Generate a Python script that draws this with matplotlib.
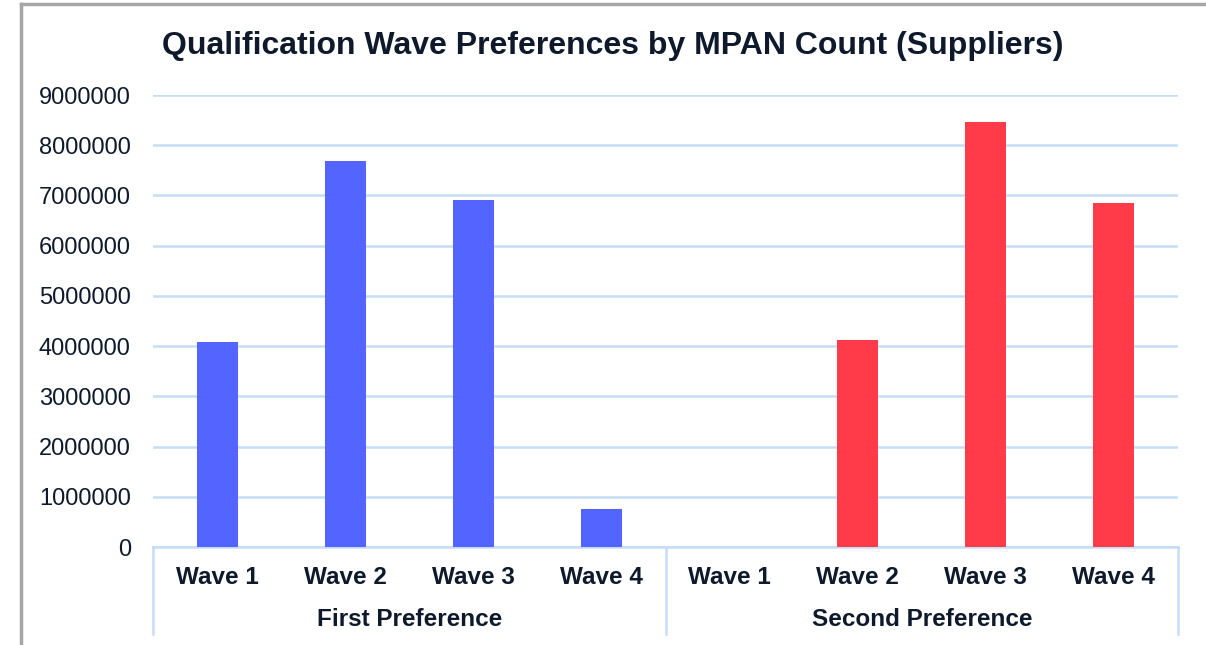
import matplotlib.pyplot as plt
import matplotlib.lines as mlines

plt.rcParams['font.family'] = ['Liberation Sans', 'DejaVu Sans']

# data
waves = ['Wave 1', 'Wave 2', 'Wave 3', 'Wave 4']
groups = ['First Preference', 'Second Preference']
first_pref = [4080000, 7690000, 6910000, 760000]
second_pref = [0, 4120000, 8460000, 6850000]
yticks = [0, 1000000, 2000000, 3000000, 4000000, 5000000, 6000000, 7000000, 8000000, 9000000]

text_col = '#0e1a2b'
grid_col = '#c6ddf6'
blue = '#5465ff'
red = '#ff3b4a'

fig = plt.figure(figsize=(12.06, 6.45), dpi=100)
W, H = 1206, 645
ax = fig.add_axes([153 / W, (H - 547) / H, (1178 - 153) / W, (547 - 95) / H])

n = len(waves)
x1 = list(range(n))
x2 = [i + n for i in range(n)]
bw = 0.32
ax.bar(x1, first_pref, width=bw, color=blue, zorder=3)
ax.bar(x2, second_pref, width=bw, color=red, zorder=3)

ax.set_xlim(-0.5, 2 * n - 0.5)
ax.set_ylim(0, 9000000)
ax.set_yticks(yticks)
ax.set_yticklabels([str(v) for v in yticks], fontsize=17, color=text_col)
ax.yaxis.grid(True, color=grid_col, linewidth=1.8)
ax.set_axisbelow(True)
ax.tick_params(axis='y', length=0, pad=16)
ax.tick_params(axis='x', length=0, labelbottom=False)
for s in ['top', 'right', 'left', 'bottom']:
    ax.spines[s].set_visible(False)

# category axis
ax.plot([-0.5, 2 * n - 0.5], [0, 0], color=grid_col, linewidth=1.8, clip_on=False, zorder=2)
depth = -(634 - 547) / (547 - 95)
for xv in [-0.5, n - 0.5, 2 * n - 0.5]:
    ax.plot([xv, xv], [0, depth], color=grid_col, linewidth=1.8,
            transform=ax.get_xaxis_transform(), clip_on=False)

wave_y = -(577 - 547) / (547 - 95)
group_y = -(619 - 547) / (547 - 95)
for i, lab in enumerate(waves + waves):
    ax.text(i, wave_y, lab, transform=ax.get_xaxis_transform(), ha='center', va='center',
            fontsize=17.5, fontweight='bold', color=text_col)
for g, lab in enumerate(groups):
    ax.text(g * n + (n - 1) / 2, group_y, lab, transform=ax.get_xaxis_transform(),
            ha='center', va='center', fontsize=17.5, fontweight='bold', color=text_col)

fig.text(613 / W, 1 - 46 / H, 'Qualification Wave Preferences by MPAN Count (Suppliers)',
         ha='center', va='center', fontsize=23, fontweight='bold', color=text_col)

# outer border (top and left only)
fig.add_artist(mlines.Line2D([21 / W, 21 / W], [0, 1 - 4 / H], color='#a6a6a6', linewidth=2.5,
                             transform=fig.transFigure))
fig.add_artist(mlines.Line2D([21 / W, 1], [1 - 4 / H, 1 - 4 / H], color='#a6a6a6', linewidth=2.5,
                             transform=fig.transFigure))

fig.savefig('out.png', dpi=100)
